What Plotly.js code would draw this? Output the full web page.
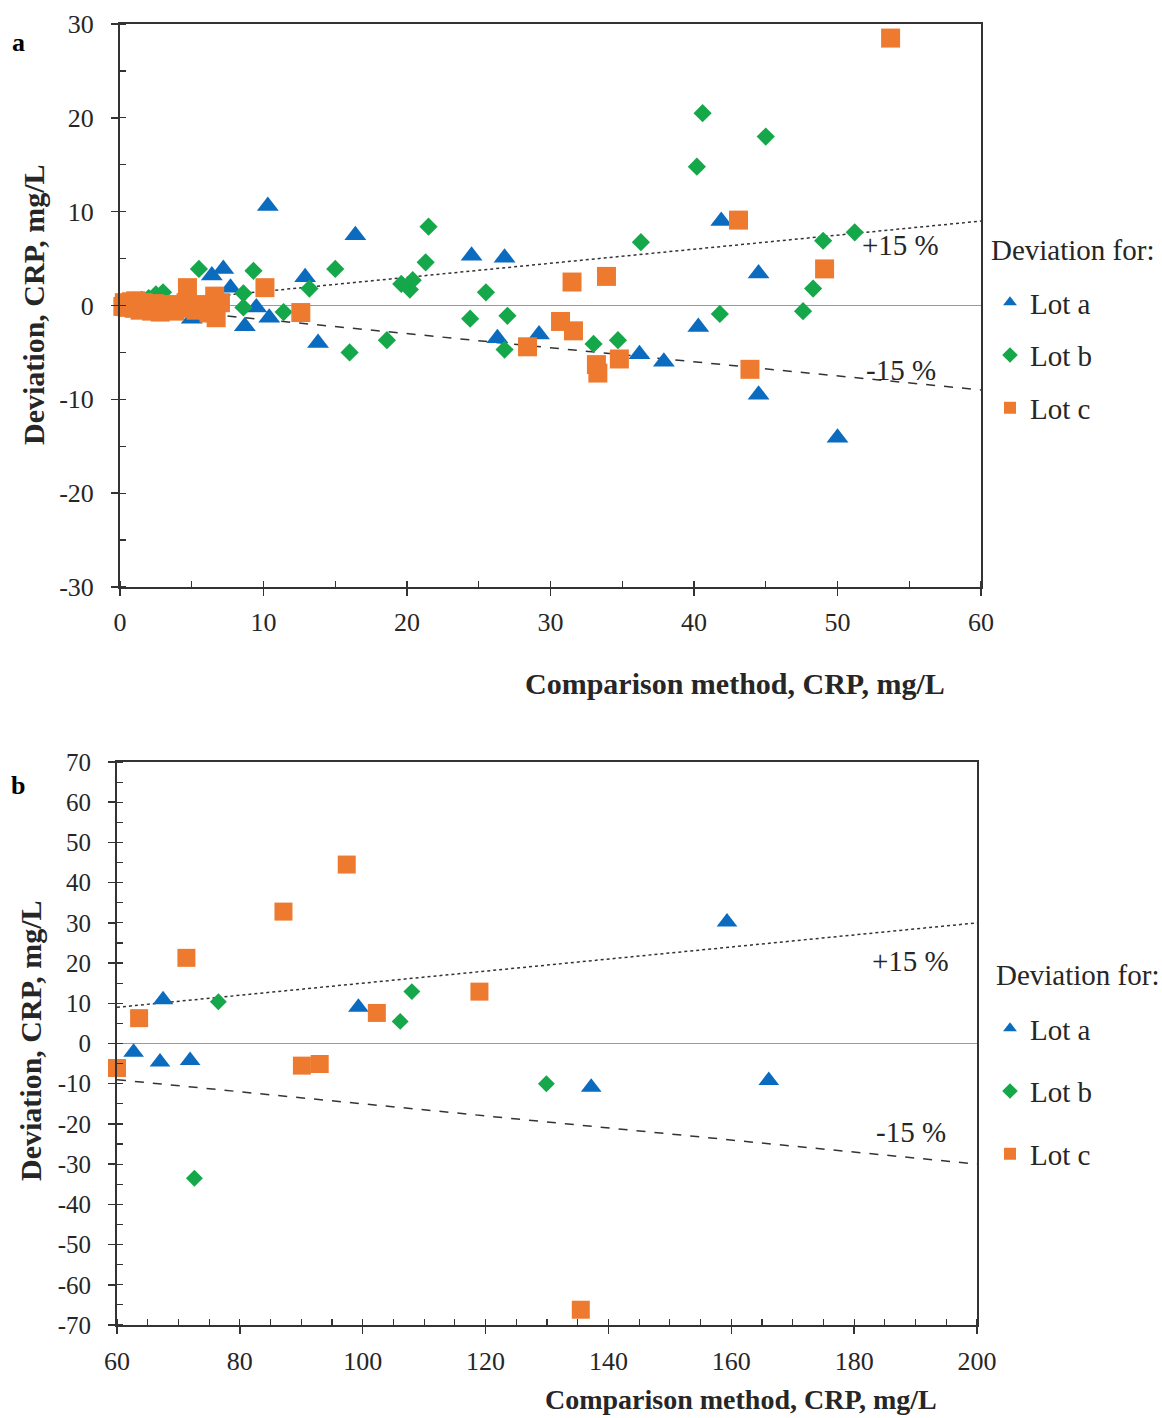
<!DOCTYPE html>
<html><head><meta charset="utf-8">
<script src="https://cdn.plot.ly/plotly-3.0.1.min.js"></script>
<style>body{margin:0;background:#fff}#chart{width:1162px;height:1418px}</style>
</head><body><div id="chart"></div><script>
// ---------- Panel a data (Comparison method CRP vs deviation, mg/L) ----------
const aLotA_x = [0.5,1.0,2.8,5.0,6.4,7.2,7.7,8.7,9.5,10.3,10.4,12.9,13.8,16.4,24.5,26.3,26.8,29.2,36.2,37.9,40.3,41.9,44.5,44.5,50.0];
const aLotA_y = [0.3,0.5,1.0,-1.4,3.2,3.9,1.9,-2.2,-0.2,10.6,-1.3,3.0,-4.0,7.5,5.3,-3.5,5.1,-3.1,-5.2,-6.0,-2.3,9.0,3.4,-9.5,-14.1];
const aLotB_x = [1.5,2.0,2.5,3.0,5.5,8.6,8.6,9.3,11.4,13.2,15.0,16.0,18.6,19.6,20.2,20.4,21.3,21.5,24.4,25.5,26.8,27.0,33.0,34.7,36.3,40.2,40.6,41.8,45.0,47.6,48.3,49.0,51.2];
const aLotB_y = [0.6,0.8,1.2,1.4,3.9,1.3,-0.2,3.7,-0.7,1.8,3.9,-5.0,-3.7,2.3,1.7,2.7,4.6,8.4,-1.4,1.4,-4.7,-1.1,-4.1,-3.7,6.75,14.8,20.5,-0.9,18.0,-0.6,1.8,6.9,7.8];
const aLotC_x = [0.2,0.3,0.5,0.8,1.0,1.1,1.2,1.4,1.6,1.8,2.0,2.2,2.4,2.6,2.8,3.0,3.2,3.4,3.6,3.8,4.0,4.2,4.6,4.7,5.3,5.8,6.2,6.6,6.7,7.0,10.1,12.6,28.4,30.7,31.5,31.6,33.2,33.3,33.9,34.8,43.1,43.9,49.1,53.7];
const aLotC_y = [-0.1,0.3,-0.2,0.4,-0.3,0.5,0.2,-0.5,0.3,-0.4,0.1,-0.6,0.2,-0.3,-0.7,0.1,-0.5,-0.2,0.0,-0.6,-0.3,0.1,0.3,1.9,-0.5,0.1,-0.8,1.0,-1.3,0.3,1.9,-0.75,-4.4,-1.7,2.5,-2.7,-6.3,-7.2,3.1,-5.7,9.1,-6.8,3.9,28.5];

// ---------- Panel b data ----------
const bLotA_x = [62.7,67.0,67.5,71.9,99.3,137.2,159.3,166.1];
const bLotA_y = [-2.2,-4.6,10.9,-4.2,9.0,-10.9,30.2,-9.2];
const bLotB_x = [72.6,76.5,106.1,108.0,129.9];
const bLotB_y = [-33.5,10.4,5.5,12.9,-10.0];
const bLotC_x = [60.0,63.6,71.3,87.1,90.1,93.0,97.4,102.3,119.0,135.5];
const bLotC_y = [-6.1,6.3,21.3,32.8,-5.5,-5.1,44.5,7.6,12.9,-66.2];

// ---------- +/-15 % limit lines ----------
const limitPct = 0.15;
const aLimitX = [0, 60];
const bLimitX = [60, 200];

// ---------- tick labels (hyphen minus as in the original) ----------
const aXticks = [0,10,20,30,40,50,60];
const aYticks = [-30,-20,-10,0,10,20,30];
const bXticks = [60,80,100,120,140,160,180,200];
const bYticks = [-70,-60,-50,-40,-30,-20,-10,0,10,20,30,40,50,60,70];

const seriesNames = ['Lot a','Lot b','Lot c'];
const legendTitle = 'Deviation for:';
const xTitle = 'Comparison method, CRP, mg/L';
const yTitle = 'Deviation, CRP, mg/L';

const W = 1162, H = 1418;
const px = v => v / W, py = v => 1 - v / H;
const FONT = 'Liberation Serif, Times New Roman, serif';
const TXT = '#262626';
const BLUE = '#0a6bbf', GREEN = '#14a84a', ORANGE = '#ee7a30';

function pts(x, y, name, sym, color, size, xa, ya, leg, grp) {
  return {x, y, name, type:'scatter', mode:'markers', xaxis:xa, yaxis:ya, legend:leg,
    legendgroup:grp, cliponaxis:false,
    marker:{symbol:sym, color, size, line:{width:0}}};
}
function lim(xs, sign, dash, xa, ya) {
  return {x:xs, y:xs.map(v => sign*limitPct*v), type:'scatter', mode:'lines', xaxis:xa, yaxis:ya,
    showlegend:false, hoverinfo:'skip', line:{color:'#333', width:1.5, dash}};
}

const data = [
  lim(aLimitX, 1, 'dot', 'x', 'y'),
  lim(aLimitX, -1, 'dash', 'x', 'y'),
  pts(aLotA_x, aLotA_y, seriesNames[0], 'triangle-up', BLUE, 19, 'x', 'y', 'legend', 'a1'),
  pts(aLotB_x, aLotB_y, seriesNames[1], 'diamond', GREEN, 14, 'x', 'y', 'legend', 'a2'),
  pts(aLotC_x, aLotC_y, seriesNames[2], 'square', ORANGE, 19, 'x', 'y', 'legend', 'a3'),
  lim(bLimitX, 1, 'dot', 'x2', 'y2'),
  lim(bLimitX, -1, 'dash', 'x2', 'y2'),
  pts(bLotA_x, bLotA_y, seriesNames[0], 'triangle-up', BLUE, 18, 'x2', 'y2', 'legend2', 'b1'),
  pts(bLotB_x, bLotB_y, seriesNames[1], 'diamond', GREEN, 13, 'x2', 'y2', 'legend2', 'b2'),
  pts(bLotC_x, bLotC_y, seriesNames[2], 'square', ORANGE, 18, 'x2', 'y2', 'legend2', 'b3')
];

const lbl = v => String(v).replace('\u2212','-');
function axis(dom, range, ticksArr, mdtick, anchor, extra) {
  return Object.assign({
    domain: dom, range, anchor, tickmode:'array', tickvals:ticksArr, ticktext:ticksArr.map(lbl),
    showgrid:false, zeroline:false,
    showline:true, mirror:true, linecolor:'#333', linewidth:2,
    ticks:'outside', ticklen:7, tickwidth:1.5, tickcolor:'#333',
    minor:{dtick:mdtick, tick0:range[0], ticks:'inside', ticklen:6, tickwidth:1.2, tickcolor:'#333', showgrid:false},
    tickfont:{family:FONT, size:26, color:TXT}, ticklabelstandoff:6, fixedrange:true
  }, extra || {});
}

const ann = (text, x, y, size, extra) => Object.assign({text, xref:'paper', yref:'paper', x:px(x), y:py(y),
  xanchor:'center', yanchor:'middle', showarrow:false, font:{size, family:FONT, color:TXT}}, extra || {});

const layout = {
  width: W, height: H, margin:{l:0,r:0,t:0,b:0}, paper_bgcolor:'#fff', plot_bgcolor:'#fff',
  font:{family:FONT, color:TXT},
  xaxis: axis([px(120), px(981)], [0, 60], aXticks, 5, 'y', {ticklabelstandoff:4}),
  yaxis: axis([py(587), py(24)], [-30, 30], aYticks, 5, 'x', {ticklabelstandoff:12, zeroline:true, zerolinecolor:'#9a9a9a', zerolinewidth:1.2}),
  xaxis2: axis([px(117), px(977)], [60, 200], bXticks, 5, 'y2', {ticklabelstandoff:5}),
  yaxis2: axis([py(1325), py(762)], [-70, 70], bYticks, 5, 'x2', {ticklabelstandoff:12, zeroline:true, zerolinecolor:'#9a9a9a', zerolinewidth:1.2, tickfont:{family:FONT, size:25, color:TXT}}),
  legend: {x:px(990), y:py(277), xanchor:'left', yanchor:'top', traceorder:'grouped', tracegroupgap:12,
    itemsizing:'constant', bgcolor:'rgba(0,0,0,0)', font:{family:FONT, size:29, color:TXT}},
  legend2: {x:px(990), y:py(1003), xanchor:'left', yanchor:'top', traceorder:'grouped', tracegroupgap:22,
    itemsizing:'constant', bgcolor:'rgba(0,0,0,0)', font:{family:FONT, size:29, color:TXT}},
  showlegend:true,
  annotations: [
    ann('<b>a</b>', 18, 43, 26, {font:{size:26, family:FONT, color:'#000'}}),
    ann('<b>b</b>', 18, 785, 26, {font:{size:26, family:FONT, color:'#000'}}),
    ann('<b>'+yTitle+'</b>', 33, 305, 30, {textangle:-90}),
    ann('<b>'+yTitle+'</b>', 30, 1041, 30, {textangle:-90}),
    ann('<b>'+xTitle+'</b>', 735, 683, 30),
    ann('<b>'+xTitle+'</b>', 741, 1399, 28),
    ann(legendTitle, 989, 250, 29, {xanchor:'left'}),
    ann(legendTitle, 994, 975, 29, {xanchor:'left'}),
    {text:'+15 %', xref:'x', yref:'y', x:54.4, y:6.4, xanchor:'center', yanchor:'middle', showarrow:false, font:{size:29, family:FONT, color:TXT}},
    {text:'-15 %', xref:'x', yref:'y', x:54.4, y:-6.9, xanchor:'center', yanchor:'middle', showarrow:false, font:{size:29, family:FONT, color:TXT}},
    {text:'+15 %', xref:'x2', yref:'y2', x:189.1, y:20.6, xanchor:'center', yanchor:'middle', showarrow:false, font:{size:29, family:FONT, color:TXT}},
    {text:'-15 %', xref:'x2', yref:'y2', x:189.3, y:-21.9, xanchor:'center', yanchor:'middle', showarrow:false, font:{size:29, family:FONT, color:TXT}}
  ]
};

Plotly.newPlot('chart', data, layout, {staticPlot:true, displayModeBar:false});
</script></body></html>
